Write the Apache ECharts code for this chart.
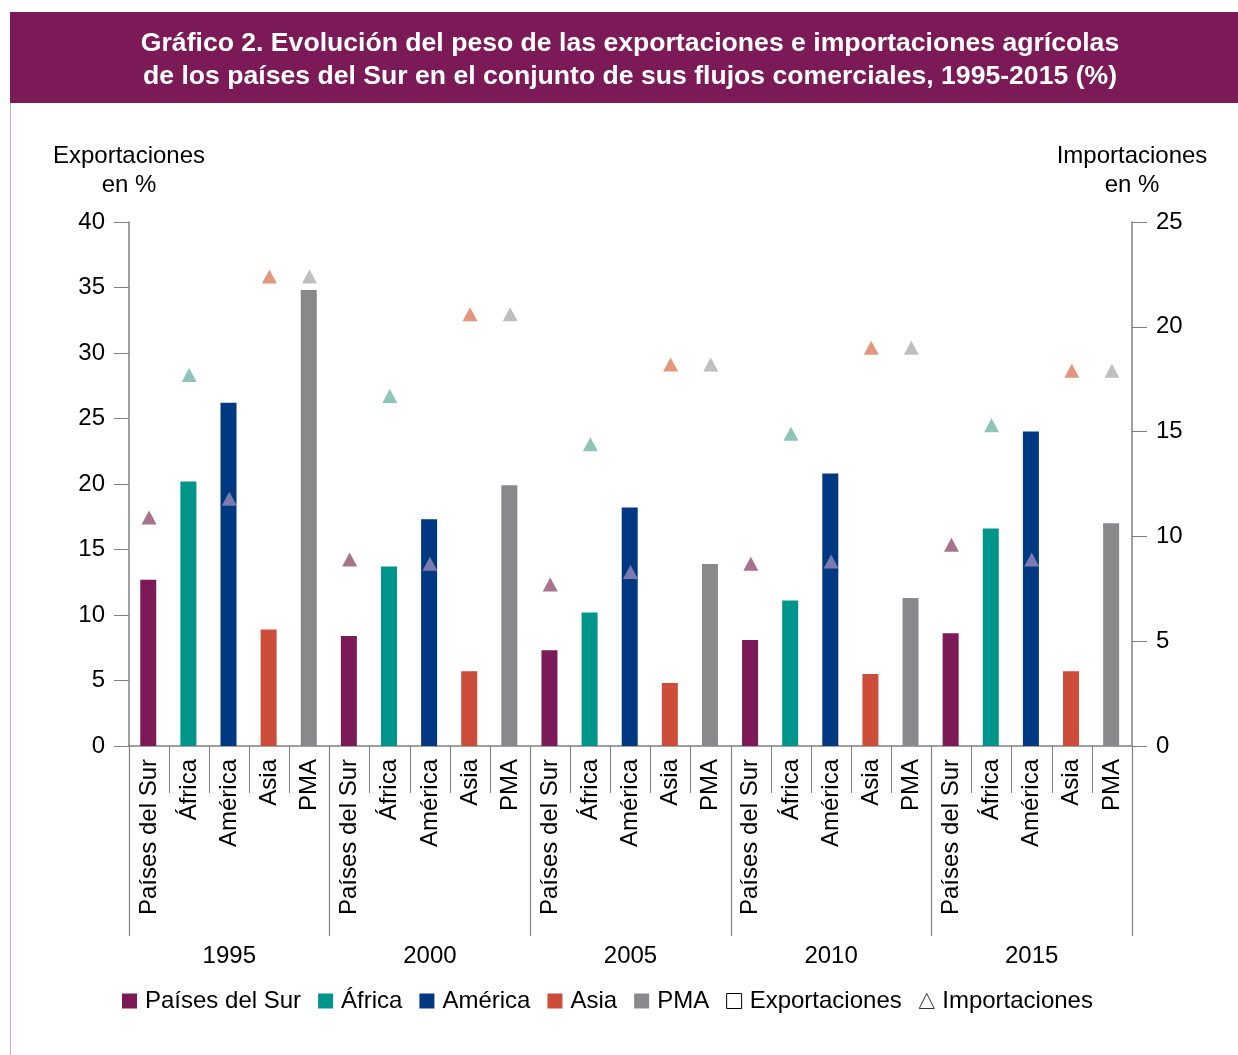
<!DOCTYPE html>
<html>
<head>
<meta charset="utf-8">
<script src="https://cdn.jsdelivr.net/npm/echarts@6/dist/echarts.min.js"></script>
<style>
html,body{margin:0;padding:0;background:#fff;}
#chart{width:1238px;height:1055px;}
</style>
</head>
<body>
<div id="chart"></div>
<script>
// ---- Data ----
var years = ['1995', '2000', '2005', '2010', '2015'];
var regions = ['Países del Sur', 'África', 'América', 'Asia', 'PMA'];

// Exportaciones (left axis, %)
var expPaises  = [12.7, 8.4, 7.3, 8.1, 8.6];
var expAfrica  = [20.2, 13.7, 10.2, 11.1, 16.6];
var expAmerica = [26.2, 17.3, 18.2, 20.8, 24.0];
var expAsia    = [8.9, 5.7, 4.8, 5.5, 5.7];
var expPMA     = [34.8, 19.9, 13.9, 11.3, 17.0];

// Importaciones (right axis, %)
var impPaises  = [10.9, 8.9, 7.7, 8.7, 9.6];
var impAfrica  = [17.7, 16.7, 14.4, 14.9, 15.3];
var impAmerica = [11.8, 8.7, 8.3, 8.8, 8.9];
var impAsia    = [22.4, 20.6, 18.2, 19.0, 17.9];
var impPMA     = [22.4, 20.6, 18.2, 19.0, 17.9];

var leftTicks = [0, 40, 5];
var rightTicks = [0, 25, 5];

// ---- Styles ----
var barColors = ['#7B1A57', '#00958A', '#003882', '#CB4D3A', '#89898B'];
var triColors = ['#A8728F', '#8FC4BB', '#7B7BB0', '#E3967C', '#BFBFC1'];
var FONT = '"Liberation Sans", Arial, Helvetica, sans-serif';
var FS = 24;

var exportsAll = [expPaises, expAfrica, expAmerica, expAsia, expPMA];
var importsAll = [impPaises, impAfrica, impAmerica, impAsia, impPMA];

// Category list: region within year
var cats = [];
years.forEach(function () { regions.forEach(function (r) { cats.push(r); }); });

function spread(arr, rIdx) {
  var out = [];
  years.forEach(function (y, yi) {
    regions.forEach(function (r, ri) { out.push(ri === rIdx ? arr[yi] : '-'); });
  });
  return out;
}

var series = [];
regions.forEach(function (r, ri) {
  series.push({
    name: r, type: 'bar', stack: 'exp', barWidth: 16,
    xAxisIndex: 0, yAxisIndex: 0,
    itemStyle: { color: barColors[ri] },
    data: spread(exportsAll[ri], ri)
  });
});
regions.forEach(function (r, ri) {
  series.push({
    name: r + ' (imp)', type: 'scatter', symbol: 'triangle', symbolSize: [15, 14],
    xAxisIndex: 0, yAxisIndex: 1, z: 5,
    itemStyle: { color: triColors[ri], opacity: 1 },
    data: spread(importsAll[ri], ri)
  });
});
series.push({ name: 'Exportaciones', type: 'bar', xAxisIndex: 0, yAxisIndex: 0, data: [],
  itemStyle: { color: '#fff', borderColor: '#000', borderWidth: 1 } });
series.push({ name: 'Importaciones', type: 'scatter', xAxisIndex: 0, yAxisIndex: 1, data: [],
  itemStyle: { color: '#fff', borderColor: '#000', borderWidth: 1 } });

var legendData = regions.map(function (r, ri) {
  return { name: r, icon: 'rect', itemStyle: { color: barColors[ri] } };
});
legendData.push({ name: 'Exportaciones', icon: 'rect', itemStyle: { color: '#fff', borderColor: '#000', borderWidth: 1 } });
legendData.push({ name: 'Importaciones', icon: 'triangle', itemStyle: { color: '#fff', borderColor: '#000', borderWidth: 1 } });

var chart = echarts.init(document.getElementById('chart'), null, { renderer: 'canvas' });
chart.setOption({
  backgroundColor: '#fff',
  animation: false,
  textStyle: { fontFamily: FONT },
  graphic: [
    { type: 'rect', shape: { x: 10, y: 12, width: 1228, height: 91 }, style: { fill: '#7B1A57' }, z: 0 },
    { type: 'line', shape: { x1: 10.5, y1: 103, x2: 10.5, y2: 1055 }, style: { stroke: '#D3A7C4', lineWidth: 1 } },
    { type: 'text', x: 630, y: 60, style: {
        text: 'Gráfico 2. Evolución del peso de las exportaciones e importaciones agrícolas\nde los países del Sur en el conjunto de sus flujos comerciales, 1995-2015 (%)',
        fill: '#fff', font: 'bold 26.6px ' + FONT, textAlign: 'center', textVerticalAlign: 'middle', lineHeight: 33 }, z: 10 }
  ],
  grid: { left: 129, right: 106, top: 222, bottom: 309, containLabel: false },
  legend: {
    data: legendData, left: 122, top: 989, padding: 0, itemWidth: 15, itemHeight: 15, itemGap: 17,
    selectedMode: false,
    textStyle: { fontSize: FS, color: '#000', fontFamily: FONT, padding: [0, 0, 0, 3] }
  },
  xAxis: [
    {
      type: 'category', data: cats, position: 'bottom', offset: 0,
      axisLine: { show: true, onZero: false, lineStyle: { color: '#808080', width: 1.5 } },
      axisTick: { show: true, length: 47, lineStyle: { color: '#808080', width: 1 } },
      axisLabel: { rotate: 90, margin: 13, fontSize: FS, color: '#000', fontFamily: FONT, interval: 0 }
    },
    {
      type: 'category', data: years, position: 'bottom', offset: 0,
      axisLine: { show: false, onZero: false },
      axisTick: { show: true, length: 190, lineStyle: { color: '#808080', width: 1.2 } },
      axisLabel: { margin: 198, fontSize: FS, color: '#000', fontFamily: FONT }
    }
  ],
  yAxis: [
    {
      type: 'value', min: leftTicks[0], max: leftTicks[1], interval: leftTicks[2], position: 'left',
      name: 'Exportaciones\nen %', nameLocation: 'end', nameGap: 22,
      nameTextStyle: { fontSize: FS, color: '#000', lineHeight: 29, align: 'center', fontFamily: FONT },
      axisLine: { show: true, lineStyle: { color: '#808080', width: 1.5 } },
      axisTick: { show: true, inside: false, length: 15, lineStyle: { color: '#808080' } },
      axisLabel: { fontSize: FS, color: '#000', margin: 24, fontFamily: FONT },
      splitLine: { show: false }
    },
    {
      type: 'value', min: rightTicks[0], max: rightTicks[1], interval: rightTicks[2], position: 'right',
      name: 'Importaciones\nen %', nameLocation: 'end', nameGap: 22,
      nameTextStyle: { fontSize: FS, color: '#000', lineHeight: 29, align: 'center', fontFamily: FONT },
      axisLine: { show: true, lineStyle: { color: '#808080', width: 1.5 } },
      axisTick: { show: true, inside: false, length: 15, lineStyle: { color: '#808080' } },
      axisLabel: { fontSize: FS, color: '#000', margin: 24, fontFamily: FONT },
      splitLine: { show: false }
    }
  ],
  series: series
});
</script>
</body>
</html>
